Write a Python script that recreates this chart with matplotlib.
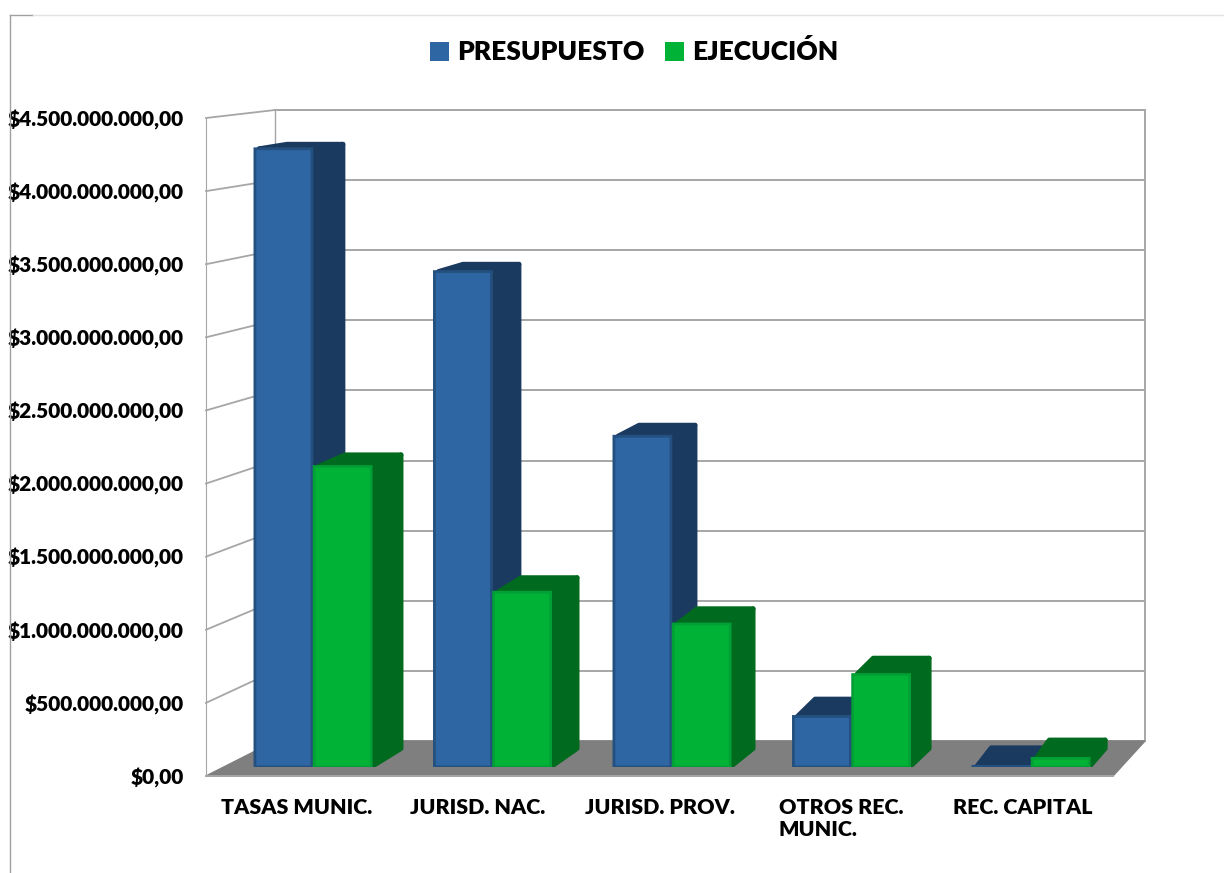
import matplotlib
matplotlib.use("Agg")
import matplotlib.pyplot as plt
from matplotlib.lines import Line2D
from matplotlib.patches import FancyBboxPatch, Patch, Polygon
from matplotlib.transforms import IdentityTransform

categories = ["TASAS MUNIC.", "JURISD. NAC.", "JURISD. PROV.", "OTROS REC.\nMUNIC.", "REC. CAPITAL"]
presupuesto = [4.28e9, 3.43e9, 2.29e9, 0.35e9, 0.005e9]
ejecucion = [2.08e9, 1.21e9, 0.99e9, 0.64e9, 0.06e9]
ticks = [0, 0.5e9, 1e9, 1.5e9, 2e9, 2.5e9, 3e9, 3.5e9, 4e9, 4.5e9]
tick_labels = ["$0,00", "$500.000.000,00", "$1.000.000.000,00", "$1.500.000.000,00",
               "$2.000.000.000,00", "$2.500.000.000,00", "$3.000.000.000,00",
               "$3.500.000.000,00", "$4.000.000.000,00", "$4.500.000.000,00"]

W, H = 1224, 873
GREY = "#A6A6A6"
FLOOR = "#7F7F7F"
BLUE = ("#2E65A3", "#1B3A5F", "#24507F")
GREEN = ("#00B336", "#006A1E", "#00A036")

plt.rcParams["font.family"] = ["Lato", "DejaVu Sans"]
plt.rcParams["font.weight"] = "heavy"


def axes_px(fig, left, top, right, bottom):
    # axes from pixel box, y measured from the top of the picture
    return fig.add_axes([left / W, 1 - bottom / H, (right - left) / W, (bottom - top) / H])


fig = plt.figure(figsize=(W / 100, H / 100), dpi=100)

# back wall, front plane and the plane the bars stand on
back = axes_px(fig, 275, 110, 1145, 741)
front = axes_px(fig, 206, 118, 1113, 776)
bars = axes_px(fig, 223.5, 117, 1121, 767)
back.set_zorder(0)
front.set_zorder(1)
bars.set_zorder(2)

for a in (back, front, bars):
    a.set_xlim(0, 5)
    a.set_ylim(0, 4.5e9)
    a.patch.set_visible(False)
    for s in a.spines.values():
        s.set_visible(False)

back.set_xticks([])
back.set_yticks(ticks)
back.tick_params(left=False, labelleft=False)
back.grid(axis="y", color=GREY, lw=1.4)
back.set_axisbelow(True)
for name in ("left", "right", "top"):
    back.spines[name].set_visible(True)
    back.spines[name].set_color(GREY)
    back.spines[name].set_linewidth(1.4)
back.spines["left"].set_linewidth(1.0)

front.set_yticks(ticks, tick_labels)
front.set_xticks([i + 0.5 for i in range(5)])
front.set_xticklabels(categories, ma="left", va="top")
front.tick_params(axis="y", length=0, pad=16, labelsize=15)
front.tick_params(axis="x", length=0, pad=16, labelsize=15.4)
front.spines["left"].set_visible(True)
front.spines["left"].set_color(GREY)

bars.axis("off")


def to_px(a, x, v):
    return a.transData.transform((x, v))


# floor
floor = Polygon([to_px(front, 0, 0), to_px(front, 5, 0), to_px(back, 5, 0), to_px(back, 0, 0)],
                closed=True, fc=FLOOR, ec=FLOOR, lw=1, transform=IdentityTransform(),
                zorder=3, clip_on=False)
back.add_patch(floor)
p0, p1 = to_px(front, 0, 0), to_px(front, 5, 0)
front.add_artist(Line2D([p0[0], p1[0]], [p0[1], p1[1]], color=GREY, lw=1.4,
                        transform=IdentityTransform(), clip_on=False))

# side wall lines
for t in ticks[1:]:
    p0 = to_px(front, 0, t)
    p1 = to_px(back, 0, t)
    back.add_artist(Line2D([p0[0], p1[0]], [p0[1], p1[1]], color=GREY, lw=1.3,
                           transform=IdentityTransform(), zorder=1, clip_on=False))

PX_X = 179.5
PX_Y = 650 / 4.5e9
ASPECT = 1 / PX_Y / PX_X
BAR_W = 57 / PX_X


def depth_x(x):
    return (31 - 15 * (x - 0.5) / 4.33) / PX_X


def depth_v(v):
    return (18.5 - 0.0226 * v * PX_Y) / PX_Y


def draw_bar(x0, v, colors):
    x1 = x0 + BAR_W
    dx0, dx1 = depth_x(x0), depth_x(x1)
    dv_top, dv_base = depth_v(v), depth_v(0)
    inset = 4 / PX_X
    shape = dict(fc=colors[1], ec=colors[1], lw=3.5, joinstyle="round")
    bars.add_patch(Polygon([(x1, 0), (x1 + dx1, dv_base), (x1 + dx1, v + dv_top), (x1, v)], **shape))
    bars.add_patch(Polygon([(x0 + inset, v), (x0 + dx0, v + dv_top), (x1 + dx1, v + dv_top), (x1, v)], **shape))
    r = min(6 / PX_X, v / ASPECT / 2)
    bars.add_patch(FancyBboxPatch((x0, 0), BAR_W, v, boxstyle=f"round,pad=0,rounding_size={r}",
                                  mutation_aspect=ASPECT, fc=colors[0], ec=colors[2], lw=2))


for i in range(5):
    draw_bar(i + 0.175, presupuesto[i], BLUE)
    draw_bar(i + 0.505, ejecucion[i], GREEN)

# outer frame of the chart area
fig.add_artist(Line2D([10 / W, 10 / W], [0, 1 - 15 / H], color="#A0A0A0", lw=1))
fig.add_artist(Line2D([10 / W, 33 / W], [1 - 15 / H, 1 - 15 / H], color="#A0A0A0", lw=1))
fig.add_artist(Line2D([33 / W, 1], [1 - 15 / H, 1 - 15 / H], color="#E2E2E2", lw=1))

fig.legend(handles=[Patch(fc=BLUE[0], label="PRESUPUESTO"), Patch(fc=GREEN[0], label="EJECUCIÓN")],
           loc="center", bbox_to_anchor=(634 / W, 1 - 52 / H), ncol=2, frameon=False, fontsize=19,
           handlelength=0.72, handleheight=0.72, handletextpad=0.3, columnspacing=0.8)

fig.savefig("out.png", dpi=100)
